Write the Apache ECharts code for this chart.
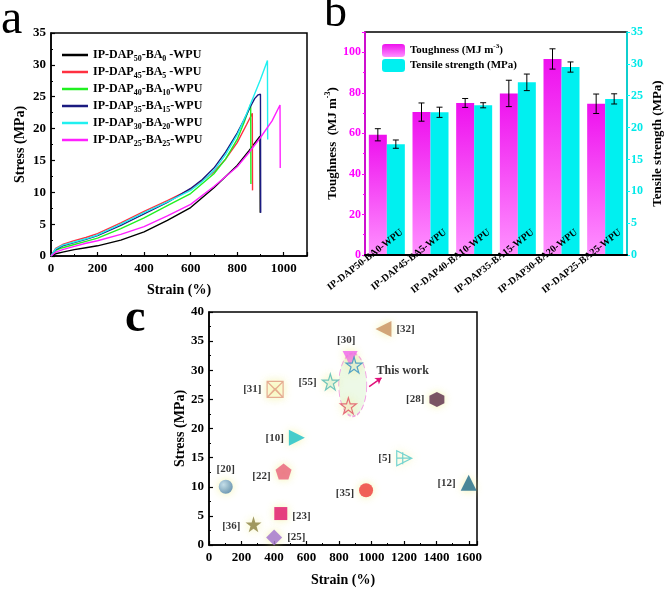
<!DOCTYPE html>
<html><head><meta charset="utf-8">
<script src="https://cdn.jsdelivr.net/npm/echarts@6/dist/echarts.min.js"></script>
<style>html,body{margin:0;padding:0;background:#fff}#c{width:666px;height:592px}</style>
</head><body><div id="c"></div>
<script>
// ---------- Panel a: stress-strain curves ----------
const namesA = ['IP-DAP50-BA0 -WPU','IP-DAP45-BA5 -WPU','IP-DAP40-BA10-WPU','IP-DAP35-BA15-WPU','IP-DAP30-BA20-WPU','IP-DAP25-BA25-WPU'];
const subsA = [['50','0',' -WPU'],['45','5',' -WPU'],['40','10','-WPU'],['35','15','-WPU'],['30','20','-WPU'],['25','25','-WPU']];
const colorsA = ['#000000','#FF3040','#20F020','#1A1A80','#20F0F0','#FF20FF'];
const strain50 = [0,20,50,100,150,200,300,400,500,600,700,800,850,898,899];
const stress50 = [0,0.35,0.6,1.0,1.3,1.6,2.5,3.8,5.6,7.6,10.7,14.2,16.5,18.8,6.8];
const strain45 = [0,20,50,100,150,200,300,400,500,600,700,750,800,840,865,866];
const stress45 = [0,1.2,1.8,2.4,2.9,3.5,5.2,7.0,8.7,10.5,13.2,15.2,17.8,20.6,22.4,10.3];
const strain40 = [0,20,50,100,150,200,300,400,500,600,700,750,800,830,858,859];
const stress40 = [0,0.9,1.3,1.8,2.3,2.8,4.3,6.0,7.9,9.8,12.9,15.2,18.3,21.0,23.8,11.3];
const strain35 = [0,20,50,100,150,200,300,400,500,600,650,700,750,800,830,855,875,890,900,901];
const stress35 = [0,1.0,1.6,2.1,2.6,3.2,4.8,6.6,8.4,10.6,12.0,13.8,16.3,19.3,21.4,23.3,24.7,25.3,25.4,6.8];
const strain30 = [0,20,50,100,150,200,300,400,500,600,650,700,750,800,840,870,900,930,931];
const stress30 = [0,1.1,1.7,2.2,2.7,3.3,5.0,6.8,8.5,10.3,11.7,13.4,15.9,19.0,22.3,25.0,27.7,30.7,18.3];
const strain25 = [0,20,50,100,150,200,300,400,500,600,700,800,850,900,950,984,985];
const stress25 = [0,0.6,1.0,1.5,2.0,2.4,3.4,4.6,6.3,8.1,10.9,14.0,16.2,18.6,21.2,23.7,13.8];
const curvesA = [[strain50,stress50],[strain45,stress45],[strain40,stress40],[strain35,stress35],[strain30,stress30],[strain25,stress25]];

// ---------- Panel b: bars ----------
const catsB = ['IP-DAP50-BA0-WPU','IP-DAP45-BA5-WPU','IP-DAP40-BA10-WPU','IP-DAP35-BA15-WPU','IP-DAP30-BA20-WPU','IP-DAP25-BA25-WPU'];
const toughness = [59.3,70.5,75.0,79.7,96.7,74.6];
const toughErr = [3.0,4.5,2.2,6.5,5.0,4.8];
const tensile = [17.4,22.4,23.5,27.1,29.5,24.5];
const tensileErr = [0.65,0.8,0.4,1.3,0.8,0.8];

// ---------- Panel c: literature comparison ----------
const refsC = ['[31]','[55]','[10]','[22]','[20]','[23]','[36]','[25]','[32]','[30]','This work','This work ','[28]','[5]','[12]','[35]'];
const strainC = [407,747,541,459,103,442,274,401,1074,869,893,858,1403,1202,1599,967];
const stressC = [26.7,28.0,18.4,12.6,10.0,5.4,3.55,1.3,37.1,32.0,30.9,23.9,25.0,14.9,10.7,9.4];

const SERIF = 'Liberation Serif';
const bold = (s,c)=>({fontFamily:SERIF,fontWeight:'bold',fontSize:s,color:c||'#000'});
const plain = v=>String(v);

const starP = 'path://M50,0 L61,35 L98,35 L68,57 L79,91 L50,70 L21,91 L32,57 L2,35 L39,35 Z';
const pentP = 'path://M50,0 L98,35 L79,91 L21,91 L2,35 Z';
const hexP = 'path://M50,0 L93,25 L93,75 L50,100 L7,75 L7,25 Z';
const boxXP = 'path://M0,0 L100,0 L100,100 L0,100 Z M0,0 L100,100 M100,0 L0,100 M0,100 L50,45 L100,100';
const triXP = 'path://M0,0 L100,50 L0,100 Z M0,50 L100,50 M40,10 L40,90';

const styleC = [
  {symbol:boxXP,size:16,color:'rgba(255,255,220,0.6)',border:'#E09880',pos:'left'},
  {symbol:starP,size:16,color:'rgba(200,240,235,0.6)',border:'#50B8B0',pos:'left'},
  {symbol:'triangle',rot:-90,size:16,color:'#18C0C8',pos:'left'},
  {symbol:pentP,size:16,color:'#E8607A',pos:'left',off:[0,5]},
  {symbol:'circle',size:14,color:'#5A8FB8',pos:'top',grad:true},
  {symbol:'rect',size:13,color:'#E0106A',pos:'right',off:[0,3]},
  {symbol:starP,size:16,color:'#8A8040',pos:'left',off:[0,2]},
  {symbol:'diamond',size:16,color:'#A070D0',pos:'right'},
  {symbol:'triangle',rot:90,size:16,color:'#C89060',pos:'right'},
  {symbol:'triangle',rot:180,size:15,color:'#F060F0',pos:'top',off:[-4,0]},
  {symbol:starP,size:16,color:'rgba(200,230,245,0.5)',border:'#2F8FC0',pos:'none'},
  {symbol:starP,size:16,color:'rgba(250,220,220,0.5)',border:'#E05060',pos:'none'},
  {symbol:hexP,size:15,color:'#5A2A4A',pos:'left'},
  {symbol:triXP,size:15,color:'rgba(255,255,255,0)',border:'#50C8C8',pos:'left'},
  {symbol:'triangle',size:16,color:'#1E6A88',pos:'left'},
  {symbol:'circle',size:14,color:'#EE3A3A',pos:'left',off:[0,3]}
];

const chart = echarts.init(document.getElementById('c'));

const series = [];
curvesA.forEach((c,k)=>{
  series.push({type:'line',name:namesA[k],xAxisIndex:0,yAxisIndex:0,symbol:'none',
    lineStyle:{color:colorsA[k],width:1.4},itemStyle:{color:colorsA[k]},
    data:c[0].map((x,i)=>[x,c[1][i]])});
});

const magGrad = new echarts.graphic.LinearGradient(0,0,0,1,[{offset:0,color:'#EE10EE'},{offset:1,color:'#FF90FF'}]);
series.push({type:'bar',name:'Toughness',xAxisIndex:1,yAxisIndex:1,barWidth:18,barGap:'0%',
  itemStyle:{color:magGrad},data:toughness});
series.push({type:'bar',name:'Tensile',xAxisIndex:1,yAxisIndex:2,barWidth:18,barGap:'0%',
  itemStyle:{color:'#00F0F0'},data:tensile});
function errRender(offset){ return function(params, api){
  const i = api.value(0), lo = api.value(1), hi = api.value(2);
  const pHi = api.coord([i, hi]), pLo = api.coord([i, lo]);
  const x = pHi[0] + offset, cap = 3, st = {stroke:'#000',lineWidth:1};
  return {type:'group',children:[
    {type:'line',shape:{x1:x,y1:pHi[1],x2:x,y2:pLo[1]},style:st},
    {type:'line',shape:{x1:x-cap,y1:pHi[1],x2:x+cap,y2:pHi[1]},style:st},
    {type:'line',shape:{x1:x-cap,y1:pLo[1],x2:x+cap,y2:pLo[1]},style:st}]};
};}
series.push({type:'custom',xAxisIndex:1,yAxisIndex:1,z:5,renderItem:errRender(-9),
  data:toughness.map((v,i)=>[i,v-toughErr[i],v+toughErr[i]])});
series.push({type:'custom',xAxisIndex:1,yAxisIndex:2,z:5,renderItem:errRender(9),
  data:tensile.map((v,i)=>[i,v-tensileErr[i],v+tensileErr[i]])});

// panel c ellipse highlight
series.push({type:'scatter',xAxisIndex:2,yAxisIndex:3,z:1,symbol:'circle',symbolSize:[28,63],
  itemStyle:{color:'rgba(228,246,220,0.85)',borderColor:'#F080E0',borderType:'dashed',borderWidth:1.2},
  data:[[885,27.5]],silent:true});
refsC.forEach((r,i)=>{
  const s = styleC[i];
  const isOutline = !!s.border;
  let color = s.color;
  if (s.grad) color = new echarts.graphic.RadialGradient(0.35,0.35,0.7,[{offset:0,color:'#B8D8F0'},{offset:1,color:'#4A7FA8'}]);
  series.push({type:'scatter',xAxisIndex:2,yAxisIndex:3,z:3,symbol:s.symbol,symbolSize:s.size,symbolRotate:s.rot||0,
    itemStyle:{color:color,borderColor:s.border||color,borderWidth:isOutline?1.2:0,
      shadowColor:'rgba(240,240,140,0.9)',shadowBlur:9},
    label:{show:s.pos!=='none',position:s.pos==='none'?'top':s.pos,distance:5,offset:s.off||[0,0],
      formatter:r,...bold(11)},
    data:[[strainC[i],stressC[i]]]});
});
// "This work" annotation
series.push({type:'scatter',xAxisIndex:2,yAxisIndex:3,symbolSize:0,silent:true,
  label:{show:true,position:'right',distance:0,formatter:'This work',...bold(12)},
  data:[[1031,29.9]],
  markLine:{silent:true,symbol:['none','arrow'],symbolSize:6,label:{show:false},
    lineStyle:{color:'#E0107A',type:'solid',width:1.5},
    data:[[{coord:[986,27.2]},{coord:[1062,28.7]}]]}});

const legendRich = {n:{...bold(12),lineHeight:16,verticalAlign:'middle'},s:{...bold(8),lineHeight:8,verticalAlign:'bottom'}};
const tickIn = {show:true,inside:true,length:4,lineStyle:{color:'#000',width:1.2}};
const minorIn = {show:true,splitNumber:2,length:2,lineStyle:{color:'#000',width:1}};

chart.setOption({
  animation:false,
  backgroundColor:'#fff',
  graphic:[
    {type:'text',left:1,top:-4,style:{text:'a',font:'48px "Liberation Serif"',fill:'#000'}},
    {type:'text',left:324,top:-9,style:{text:'b',font:'46px "Liberation Serif"',fill:'#000'}},
    {type:'text',left:125,top:296,style:{text:'c',font:'bold 46px "Liberation Serif"',fill:'#000'}}
  ],
  grid:[
    {left:51,top:33,width:256,height:223,show:true,borderColor:'#000',borderWidth:1.5,backgroundColor:'transparent'},
    {left:365,top:32,width:262,height:223,show:true,borderColor:'#000',borderWidth:1.5,backgroundColor:'transparent'},
    {left:209,top:312,width:268,height:233,show:true,borderColor:'#000',borderWidth:1.5,backgroundColor:'transparent'}
  ],
  legend:[
    {orient:'vertical',left:57,top:44,itemWidth:26,itemHeight:2.5,itemGap:3,icon:'rect',
      data:namesA,textStyle:{rich:legendRich},
      formatter:(n)=>{const k=namesA.indexOf(n);const s=subsA[k];return '{n|IP-DAP}{s|'+s[0]+'}{n|-BA}{s|'+s[1]+'}{n|'+s[2]+'}';}},
    {orient:'vertical',left:377,top:38,itemWidth:23,itemHeight:13,itemGap:2,
      data:['Toughness','Tensile'],
      textStyle:{rich:{n:{...bold(11),lineHeight:15,verticalAlign:'middle'},p:{...bold(7),lineHeight:15,verticalAlign:'top'}}},
      formatter:(n)=>n==='Toughness'?'{n|Toughness (MJ m}{p|-3}{n|)}':'{n|Tensile strength (MPa)}'}
  ],
  xAxis:[
    {type:'value',gridIndex:0,min:0,max:1100,interval:200,name:'Strain (%)',nameLocation:'middle',nameGap:27,
      nameTextStyle:bold(14),axisLine:{lineStyle:{color:'#000',width:1.5}},axisTick:tickIn,minorTick:minorIn,
      splitLine:{show:false},axisLabel:{...bold(13),margin:6,showMaxLabel:false,formatter:plain}},
    {type:'category',gridIndex:1,data:catsB,z:10,axisLine:{lineStyle:{color:'#000',width:2}},axisTick:{show:false},
      axisLabel:{...bold(10),rotate:38,interval:0,margin:-12,padding:[0,-19,0,0]}},
    {type:'value',gridIndex:2,min:0,max:1650,interval:200,name:'Strain (%)',nameLocation:'middle',nameGap:28,
      nameTextStyle:bold(14),axisLine:{lineStyle:{color:'#000',width:1.5}},axisTick:tickIn,minorTick:minorIn,
      splitLine:{show:false},axisLabel:{...bold(13),margin:6,showMaxLabel:false,formatter:plain}}
  ],
  yAxis:[
    {type:'value',gridIndex:0,min:0,max:35,interval:5,name:'Stress (MPa)',nameLocation:'middle',nameGap:24,
      nameTextStyle:bold(14),axisLine:{show:true,lineStyle:{color:'#000',width:1.5}},axisTick:tickIn,minorTick:minorIn,
      splitLine:{show:false},axisLabel:{...bold(13),margin:5,formatter:plain}},
    {type:'value',gridIndex:1,min:0,max:110,interval:20,
      name:'{t|Toughness  (MJ m}{p|-3}{t|)}',nameLocation:'middle',nameGap:20,
      nameTextStyle:{rich:{t:{...bold(13),lineHeight:18,verticalAlign:'middle'},p:{...bold(8),lineHeight:18,verticalAlign:'top'}}},
      axisLine:{show:true,lineStyle:{color:'#FF00FF',width:1.5}},axisTick:{show:true,inside:false,length:3,lineStyle:{color:'#FF00FF'}},
      minorTick:{show:true,splitNumber:2,length:2,lineStyle:{color:'#FF00FF'}},
      splitLine:{show:false},axisLabel:{...bold(12,'#FF00FF'),margin:4,showMaxLabel:false,formatter:plain}},
    {type:'value',gridIndex:1,min:0,max:35,interval:5,position:'right',
      name:'Tensile strength (MPa)',nameLocation:'middle',nameGap:24,nameRotate:90,nameTextStyle:bold(13),
      axisLine:{show:true,lineStyle:{color:'#00FFFF',width:1.5}},axisTick:{show:true,inside:false,length:3,lineStyle:{color:'#00FFFF'}},
      splitLine:{show:false},axisLabel:{...bold(12,'#00E8E8'),margin:4,formatter:plain}},
    {type:'value',gridIndex:2,min:0,max:40,interval:5,name:'Stress (MPa)',nameLocation:'middle',nameGap:18,
      nameTextStyle:bold(14),axisLine:{show:true,lineStyle:{color:'#000',width:1.5}},axisTick:tickIn,minorTick:minorIn,
      splitLine:{show:false},axisLabel:{...bold(13),margin:5,formatter:plain}}
  ],
  series:series
});
</script></body></html>
